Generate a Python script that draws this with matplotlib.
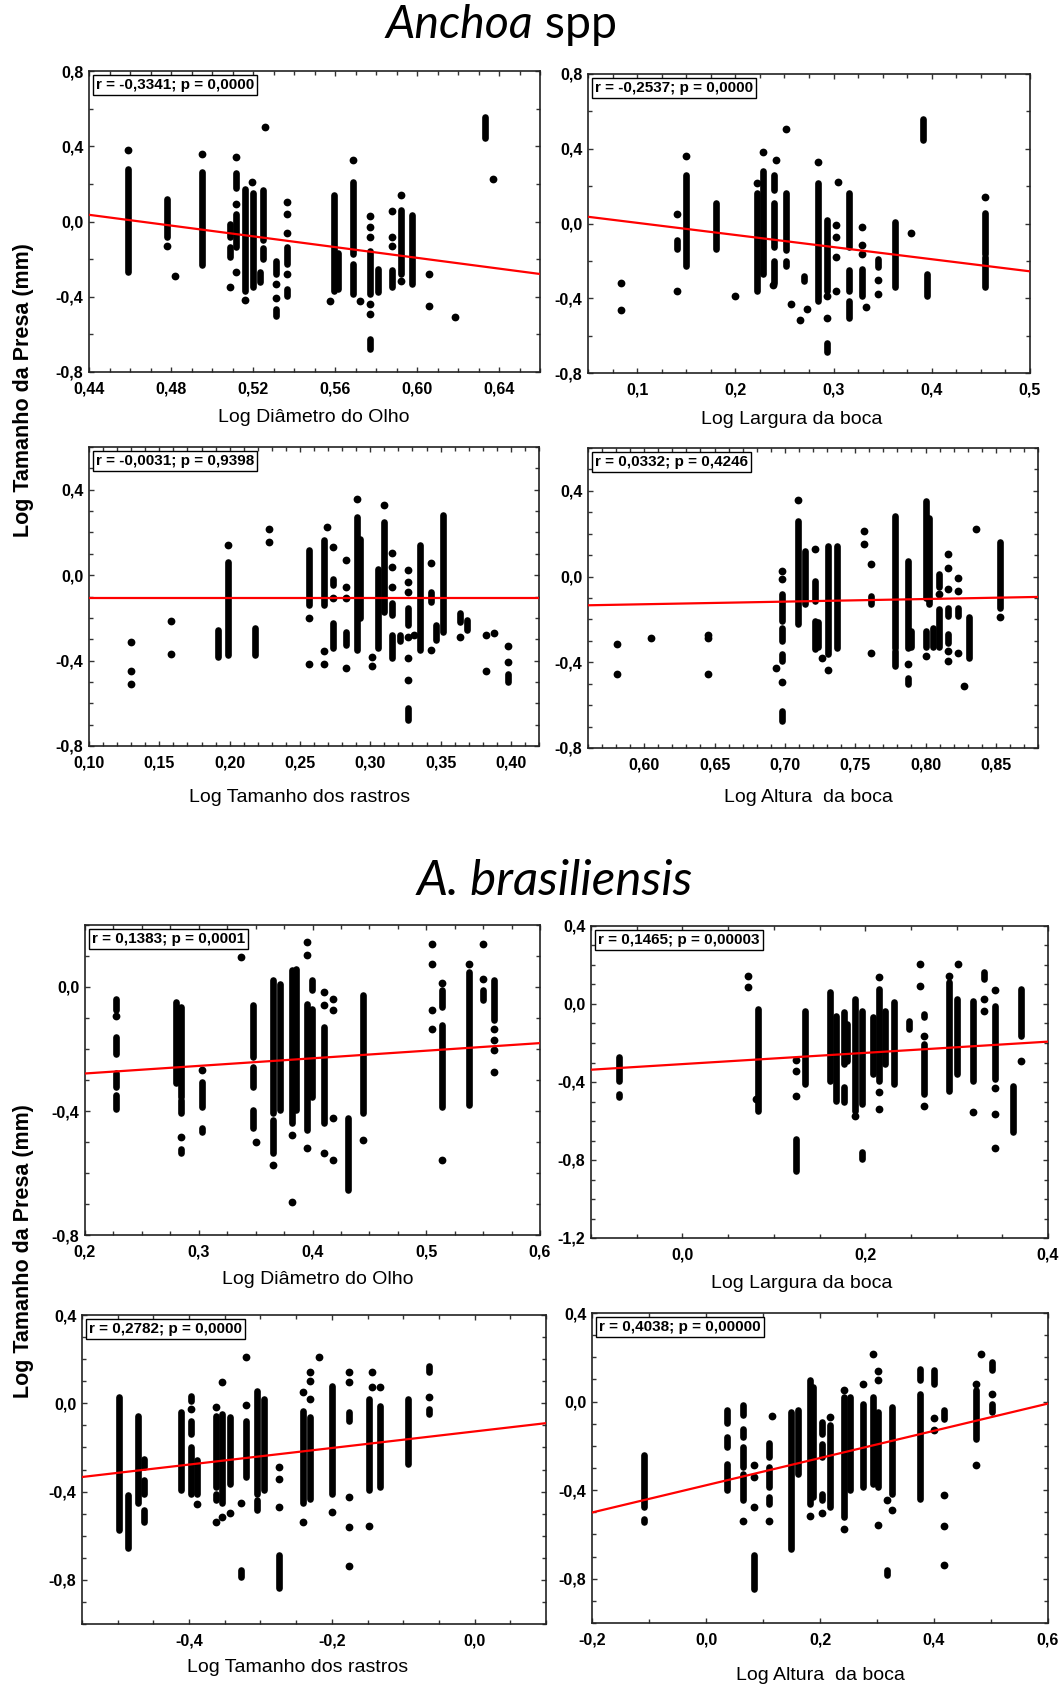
import matplotlib
matplotlib.use("Agg")
import matplotlib.pyplot as plt
from matplotlib import font_manager
from matplotlib.ticker import FixedLocator, MultipleLocator

# ------------------------------------------------------------------
# Data: each panel has dense vertical runs of overlapping points
# (x, y_low, y_high) and isolated points (x, y), plus the fitted line
# given by its two end points (x0, y0, x1, y1).
# ------------------------------------------------------------------

# Anchoa spp -- Log Diametro do Olho
anchoa_olho_runs = [
    (0.459, -0.27, 0.28), (0.478, -0.084, 0.121), (0.495, -0.229, 0.263),
    (0.5115, 0.18, 0.26), (0.5115, -0.137, 0.04), (0.509, -0.084, -0.012),
    (0.509, -0.19, -0.137), (0.516, -0.368, 0.174), (0.520, -0.35, 0.15),
    (0.525, -0.10, 0.165), (0.525, -0.20, -0.14), (0.5235, -0.32, -0.27),
    (0.531, -0.28, -0.21), (0.531, -0.50, -0.466), (0.5366, -0.226, -0.137),
    (0.5366, -0.395, -0.36), (0.5595, -0.368, 0.139), (0.5615, -0.36, -0.17),
    (0.5688, -0.172, 0.21), (0.5688, -0.386, -0.226), (0.5769, -0.386, -0.155),
    (0.5769, -0.68, -0.626), (0.581, -0.377, -0.25), (0.588, -0.35, -0.26),
    (0.592, -0.28, 0.059), (0.5977, -0.332, 0.032), (0.633, 0.444, 0.553),
]
anchoa_olho_pts = [
    (0.459, 0.382), (0.478, -0.128), (0.482, -0.288), (0.495, 0.361),
    (0.5115, 0.343), (0.5115, 0.094), (0.5115, -0.27), (0.509, -0.35),
    (0.516, -0.418), (0.5195, 0.21), (0.526, 0.503), (0.531, -0.33),
    (0.531, -0.407), (0.5366, 0.103), (0.5366, 0.041), (0.5366, -0.06),
    (0.5366, -0.28), (0.5575, -0.42), (0.5688, 0.329), (0.572, -0.42),
    (0.5769, 0.027), (0.5769, -0.03), (0.5769, -0.08), (0.5769, -0.44),
    (0.5769, -0.49), (0.588, 0.055), (0.588, -0.084), (0.588, -0.128),
    (0.592, 0.142), (0.592, -0.315), (0.606, -0.28), (0.606, -0.448),
    (0.6184, -0.51), (0.637, 0.224),
]
anchoa_olho_fit = (0.44, 0.0356, 0.66, -0.279)

# Anchoa spp -- Log Largura da boca
anchoa_largura_runs = [
    (0.1409, -0.135, -0.09), (0.15, -0.225, 0.261), (0.1804, -0.135, 0.112),
    (0.2216, -0.36, 0.162), (0.2284, -0.27, 0.279), (0.2395, 0.18, 0.26),
    (0.2395, -0.126, 0.108), (0.2395, -0.32, -0.2), (0.2514, -0.144, 0.162),
    (0.2514, -0.23, -0.2), (0.27, -0.31, -0.28), (0.284, -0.414, 0.216),
    (0.2935, -0.36, 0.018), (0.2935, -0.685, -0.64), (0.3155, -0.126, 0.162),
    (0.3155, -0.36, -0.25), (0.3155, -0.505, -0.414), (0.329, -0.387, -0.243),
    (0.345, -0.234, -0.19), (0.3622, -0.342, 0.009), (0.391, 0.445, 0.559),
    (0.395, -0.387, -0.27), (0.454, -0.162, 0.054), (0.454, -0.342, -0.18),
]
anchoa_largura_pts = [
    (0.0834, -0.319), (0.0834, -0.463), (0.1409, 0.05), (0.1409, -0.36),
    (0.15, 0.36), (0.2, -0.387), (0.2216, 0.216), (0.2284, 0.384),
    (0.241, 0.342), (0.238, -0.33), (0.2514, 0.505), (0.2564, -0.429),
    (0.2655, -0.519), (0.273, -0.46), (0.284, 0.328), (0.2935, -0.387),
    (0.2935, -0.505), (0.302, -0.009), (0.302, -0.072), (0.302, -0.18),
    (0.302, -0.36), (0.3047, 0.22), (0.329, -0.018), (0.329, -0.117),
    (0.329, -0.162), (0.3334, -0.447), (0.345, -0.303), (0.345, -0.378),
    (0.3787, -0.049), (0.454, 0.144),
]
anchoa_largura_fit = (0.05, 0.036, 0.5, -0.256)

# Anchoa spp -- Log Tamanho dos rastros
anchoa_rastros_runs = [
    (0.192, -0.381, -0.257), (0.1986, -0.374, 0.062), (0.2183, -0.374, -0.249),
    (0.2564, -0.14, 0.117), (0.267, -0.14, 0.163), (0.2738, -0.047, -0.016),
    (0.2738, -0.342, -0.226), (0.2826, -0.327, -0.265), (0.2905, -0.35, 0.272),
    (0.293, -0.2, 0.171), (0.3057, -0.342, 0.031), (0.3095, -0.171, 0.249),
    (0.3152, -0.187, -0.132), (0.3152, -0.389, -0.28), (0.321, -0.31, -0.28),
    (0.327, -0.233, -0.156), (0.327, -0.677, -0.623), (0.3357, -0.35, 0.14),
    (0.3429, -0.125, -0.078), (0.347, -0.303, -0.233), (0.3517, -0.265, 0.28),
    (0.3636, -0.218, -0.179), (0.369, -0.257, -0.21), (0.398, -0.501, -0.464),
]
anchoa_rastros_pts = [
    (0.13, -0.311), (0.13, -0.451), (0.13, -0.51), (0.158, -0.215),
    (0.158, -0.37), (0.1986, 0.14), (0.2279, 0.218), (0.2279, 0.153),
    (0.2564, -0.2), (0.2564, -0.417), (0.267, -0.355), (0.267, -0.417),
    (0.2694, 0.226), (0.2738, 0.132), (0.2738, -0.109), (0.2826, 0.07),
    (0.2826, -0.054), (0.2826, -0.109), (0.2826, -0.436), (0.2905, 0.358),
    (0.301, -0.381), (0.301, -0.425), (0.3095, 0.33), (0.3152, 0.106),
    (0.3152, 0.039), (0.3152, -0.054), (0.327, 0.023), (0.327, -0.031),
    (0.327, -0.078), (0.327, -0.288), (0.327, -0.386), (0.327, -0.49),
    (0.3314, -0.28), (0.3429, 0.058), (0.3429, -0.35), (0.3636, -0.288),
    (0.3826, -0.28), (0.3826, -0.448), (0.388, -0.272), (0.398, -0.33),
    (0.398, -0.405),
]
anchoa_rastros_fit = (0.10, -0.106, 0.42, -0.106)

# Anchoa spp -- Log Altura da boca
anchoa_altura_runs = [
    (0.698, -0.207, -0.08), (0.698, -0.3, -0.24), (0.698, -0.394, -0.363),
    (0.698, -0.674, -0.627), (0.7094, -0.223, 0.26), (0.714, -0.129, 0.12),
    (0.7212, -0.114, -0.02), (0.7212, -0.34, -0.207), (0.7236, -0.33, -0.21),
    (0.7307, -0.363, 0.143), (0.7373, -0.332, 0.143), (0.7614, -0.129, -0.09),
    (0.778, -0.332, 0.283), (0.778, -0.417, -0.347), (0.7874, -0.332, 0.073),
    (0.7874, -0.503, -0.472), (0.79, -0.33, -0.254), (0.8004, -0.098, 0.353),
    (0.8004, -0.33, -0.254), (0.8028, -0.129, 0.275), (0.805, -0.33, -0.24),
    (0.8098, -0.33, -0.153), (0.8098, -0.051, 0.011), (0.8157, -0.184, -0.145),
    (0.8157, -0.308, -0.27), (0.8228, -0.184, -0.145), (0.8311, -0.378, -0.191),
    (0.8531, -0.145, 0.159),
]
anchoa_altura_pts = [
    (0.5806, -0.313), (0.5806, -0.453), (0.605, -0.285), (0.6456, -0.274),
    (0.6456, -0.285), (0.6456, -0.453), (0.694, -0.425), (0.698, 0.026),
    (0.698, -0.012), (0.698, -0.49), (0.7094, 0.358), (0.7212, 0.128),
    (0.7264, -0.381), (0.7307, -0.437), (0.756, 0.213), (0.756, 0.151),
    (0.7614, 0.058), (0.7614, -0.355), (0.7874, -0.41), (0.8004, -0.37),
    (0.8098, -0.082), (0.8157, 0.104), (0.8157, 0.042), (0.8157, -0.059),
    (0.8157, -0.347), (0.8157, -0.394), (0.8228, -0.008), (0.8228, -0.067),
    (0.8228, -0.355), (0.8271, -0.51), (0.8358, 0.224), (0.8531, -0.191),
]
anchoa_altura_fit = (0.56, -0.134, 0.88, -0.095)

# A. brasiliensis -- Log Diametro do Olho
bras_olho_runs = [
    (0.2275, -0.075, -0.038), (0.2275, -0.215, -0.161), (0.2275, -0.322, -0.279),
    (0.2275, -0.395, -0.349), (0.2802, -0.311, -0.048), (0.2846, -0.354, -0.064),
    (0.2846, -0.408, -0.365), (0.2846, -0.537, -0.524), (0.303, -0.387, -0.306),
    (0.303, -0.467, -0.456), (0.3476, -0.225, -0.059), (0.3476, -0.322, -0.258),
    (0.3476, -0.456, -0.397), (0.3652, -0.408, 0.021), (0.3652, -0.537, -0.43),
    (0.371, -0.397, 0.011), (0.3818, -0.44, 0.054), (0.3856, -0.397, 0.059),
    (0.395, -0.462, -0.054), (0.3994, -0.011, 0.021), (0.3994, -0.354, -0.07),
    (0.4097, -0.44, -0.129), (0.431, -0.655, -0.424), (0.4448, -0.408, -0.027),
    (0.5136, -0.064, -0.011), (0.5136, -0.387, -0.123), (0.5376, -0.381, 0.048),
    (0.5496, -0.043, -0.011), (0.5596, -0.107, 0.021),
]
bras_olho_pts = [
    (0.2275, -0.094), (0.2846, -0.483), (0.303, -0.268), (0.3373, 0.097),
    (0.3505, -0.501), (0.3652, -0.574), (0.3818, -0.478), (0.3818, -0.693),
    (0.395, 0.145), (0.395, 0.102), (0.395, -0.518), (0.4097, -0.016),
    (0.4097, -0.059), (0.4097, -0.537), (0.4184, -0.038), (0.4184, -0.075),
    (0.4184, -0.424), (0.4184, -0.558), (0.4448, -0.492), (0.5048, 0.14),
    (0.5048, 0.075), (0.5048, -0.075), (0.5048, -0.134), (0.5136, 0.013),
    (0.5136, -0.558), (0.5376, 0.075), (0.5496, 0.14), (0.5496, 0.027),
    (0.5596, -0.134), (0.5596, -0.172), (0.5596, -0.204), (0.5596, -0.274),
]
bras_olho_fit = (0.2, -0.279, 0.6, -0.181)

# A. brasiliensis -- Log Largura da boca
bras_largura_runs = [
    (-0.069, -0.393, -0.274), (-0.069, -0.479, -0.462), (0.083, -0.547, -0.026),
    (0.124, -0.855, -0.692), (0.134, -0.41, -0.034), (0.162, -0.393, 0.06),
    (0.168, -0.496, -0.06), (0.177, -0.308, -0.043), (0.177, -0.504, -0.427),
    (0.18, -0.291, -0.103), (0.189, -0.547, 0.026), (0.197, -0.513, -0.034),
    (0.197, -0.795, -0.761), (0.209, -0.359, -0.068), (0.215, -0.393, 0.077),
    (0.222, -0.308, -0.034), (0.231, -0.41, 0.009), (0.2475, -0.128, -0.085),
    (0.264, -0.068, -0.051), (0.264, -0.462, -0.205), (0.292, -0.444, 0.111),
    (0.30, -0.359, 0.026), (0.318, -0.393, 0.017), (0.33, 0.128, 0.162),
    (0.342, -0.385, -0.009), (0.362, -0.658, -0.419), (0.371, -0.162, 0.077),
]
bras_largura_pts = [
    (0.0715, 0.142), (0.0715, 0.089), (0.081, -0.487), (0.124, -0.287),
    (0.124, -0.342), (0.124, -0.47), (0.189, -0.573), (0.215, 0.137),
    (0.215, -0.453), (0.215, -0.538), (0.26, 0.205), (0.26, 0.094),
    (0.264, -0.162), (0.264, -0.521), (0.292, 0.145), (0.302, 0.205),
    (0.318, -0.556), (0.33, 0.026), (0.33, -0.034), (0.342, 0.072),
    (0.342, -0.431), (0.342, -0.564), (0.342, -0.738), (0.371, -0.291),
]
bras_largura_fit = (-0.1, -0.337, 0.4, -0.193)

# A. brasiliensis -- Log Tamanho dos rastros
bras_rastros_runs = [
    (-0.4985, -0.574, 0.027), (-0.486, -0.657, -0.417), (-0.4719, -0.454, -0.056),
    (-0.4625, -0.289, -0.251), (-0.4625, -0.409, -0.349), (-0.4625, -0.537, -0.484),
    (-0.4107, -0.394, -0.041), (-0.398, 0.012, 0.035), (-0.398, -0.138, -0.078),
    (-0.398, -0.409, -0.198), (-0.3888, -0.409, -0.259), (-0.362, -0.379, -0.056),
    (-0.362, -0.439, -0.409), (-0.3538, -0.454, -0.048), (-0.3421, -0.364, -0.063),
    (-0.3267, -0.785, -0.755), (-0.3197, -0.334, -0.078), (-0.3048, -0.409, 0.057),
    (-0.3048, -0.484, -0.439), (-0.2954, -0.394, 0.02), (-0.2744, -0.838, -0.687),
    (-0.2408, -0.454, -0.033), (-0.231, -0.432, -0.063), (-0.1998, -0.409, 0.08),
    (-0.1764, -0.078, -0.041), (-0.1484, -0.394, 0.02), (-0.133, -0.379, -0.011),
    (-0.0938, -0.274, 0.02), (-0.0644, 0.14, 0.17), (-0.0644, -0.048, -0.026),
]
bras_rastros_pts = [
    (-0.398, -0.026), (-0.3888, -0.457), (-0.362, -0.018), (-0.362, -0.537),
    (-0.3538, 0.095), (-0.3538, -0.514), (-0.3421, -0.499), (-0.3267, -0.451),
    (-0.3197, 0.208), (-0.3197, -0.006), (-0.2744, -0.289), (-0.2744, -0.341),
    (-0.2744, -0.469), (-0.2408, 0.05), (-0.2408, -0.537), (-0.231, 0.144),
    (-0.231, 0.102), (-0.231, 0.02), (-0.2184, 0.208), (-0.1998, -0.492),
    (-0.1764, 0.14), (-0.1764, 0.095), (-0.1764, -0.424), (-0.1764, -0.562),
    (-0.1764, -0.735), (-0.1484, -0.556), (-0.1438, 0.14), (-0.1438, 0.072),
    (-0.133, 0.075), (-0.0644, 0.027),
]
bras_rastros_fit = (-0.55, -0.334, 0.1, -0.090)

# A. brasiliensis -- Log Altura da boca
bras_altura_runs = [
    (-0.1088, -0.476, -0.242), (-0.1088, -0.544, -0.529), (0.0374, -0.099, -0.039),
    (0.0374, -0.205, -0.16), (0.0374, -0.4, -0.28), (0.0643, -0.062, -0.017),
    (0.0643, -0.16, -0.122), (0.0643, -0.295, -0.205), (0.0643, -0.446, -0.325),
    (0.0848, -0.845, -0.694), (0.1105, -0.25, -0.187), (0.1105, -0.386, -0.295),
    (0.1105, -0.461, -0.431), (0.1491, -0.664, -0.047), (0.1608, -0.325, -0.039),
    (0.1825, -0.461, 0.096), (0.1883, -0.431, 0.066), (0.2041, -0.145, -0.092),
    (0.2041, -0.25, -0.19), (0.2041, -0.446, -0.416), (0.2175, -0.476, -0.107),
    (0.2421, -0.521, 0.021), (0.2526, -0.4, 0.021), (0.2749, -0.386, -0.009),
    (0.2936, -0.37, 0.021), (0.3023, -0.386, -0.047), (0.317, -0.785, -0.762),
    (0.3257, -0.416, -0.024), (0.3754, 0.096, 0.149), (0.3754, -0.438, 0.036),
    (0.4006, 0.081, 0.142), (0.4175, -0.077, -0.036), (0.4737, -0.167, 0.051),
    (0.5023, 0.142, 0.179), (0.5023, -0.047, -0.009),
]
bras_altura_pts = [
    (0.0643, -0.539), (0.0848, -0.288), (0.0848, -0.34), (0.0848, -0.476),
    (0.1105, -0.539), (0.1152, -0.066), (0.1825, -0.518), (0.2041, -0.502),
    (0.2175, -0.069), (0.2421, 0.051), (0.2421, -0.574), (0.2749, 0.078),
    (0.2936, 0.214), (0.3023, 0.139), (0.3023, 0.096), (0.3023, -0.559),
    (0.317, -0.446), (0.3257, -0.491), (0.4006, -0.072), (0.4006, -0.13),
    (0.4175, -0.423), (0.4175, -0.563), (0.4175, -0.739), (0.4737, 0.081),
    (0.4737, -0.288), (0.4825, 0.214), (0.5023, 0.033),
]
bras_altura_fit = (-0.2, -0.501, 0.6, -0.009)

# Correlation statistics shown in each panel
stats_labels = [
    "r = -0,3341; p = 0,0000", "r = -0,2537; p = 0,0000",
    "r = -0,0031; p = 0,9398", "r = 0,0332; p = 0,4246",
    "r = 0,1383; p = 0,0001", "r = 0,1465; p = 0,00003",
    "r = 0,2782; p = 0,0000", "r = 0,4038; p = 0,00000",
]
x_labels = [
    "Log Diâmetro do Olho", "Log Largura da boca",
    "Log Tamanho dos rastros", "Log Altura  da boca",
    "Log Diâmetro do Olho", "Log Largura da boca",
    "Log Tamanho dos rastros", "Log Altura  da boca",
]
y_label = "Log Tamanho da Presa (mm)"
titles = ["Anchoa", "spp", "A. brasiliensis"]

# Axis ranges, labelled ticks (values, decimals) and minor step per panel
x_limits = [(0.44, 0.66), (0.05, 0.5), (0.10, 0.42), (0.56, 0.88),
            (0.2, 0.6), (-0.1, 0.4), (-0.55, 0.1), (-0.2, 0.6)]
y_limits = [(-0.8, 0.8), (-0.8, 0.8), (-0.8, 0.6), (-0.8, 0.6),
            (-0.8, 0.2), (-1.2, 0.4), (-1.0, 0.4), (-1.0, 0.4)]
x_ticks = [[0.44, 0.48, 0.52, 0.56, 0.60, 0.64], [0.1, 0.2, 0.3, 0.4, 0.5],
           [0.10, 0.15, 0.20, 0.25, 0.30, 0.35, 0.40],
           [0.60, 0.65, 0.70, 0.75, 0.80, 0.85],
           [0.2, 0.3, 0.4, 0.5, 0.6], [0.0, 0.2, 0.4],
           [-0.4, -0.2, 0.0], [-0.2, 0.0, 0.2, 0.4, 0.6]]
x_decimals = [2, 1, 2, 2, 1, 1, 1, 1]
x_minor = [0.01, 0.025, 0.01, 0.01, 0.025, 0.05, 0.05, 0.1]
y_ticks = [[-0.8, -0.4, 0.0, 0.4, 0.8], [-0.8, -0.4, 0.0, 0.4, 0.8],
           [-0.8, -0.4, 0.0, 0.4], [-0.8, -0.4, 0.0, 0.4],
           [-0.8, -0.4, 0.0], [-1.2, -0.8, -0.4, 0.0, 0.4],
           [-0.8, -0.4, 0.0, 0.4], [-0.8, -0.4, 0.0, 0.4]]
y_minor = [0.2, 0.2, 0.1, 0.1, 0.1, 0.1, 0.1, 0.1]

panels = [
    (anchoa_olho_runs, anchoa_olho_pts, anchoa_olho_fit),
    (anchoa_largura_runs, anchoa_largura_pts, anchoa_largura_fit),
    (anchoa_rastros_runs, anchoa_rastros_pts, anchoa_rastros_fit),
    (anchoa_altura_runs, anchoa_altura_pts, anchoa_altura_fit),
    (bras_olho_runs, bras_olho_pts, bras_olho_fit),
    (bras_largura_runs, bras_largura_pts, bras_largura_fit),
    (bras_rastros_runs, bras_rastros_pts, bras_rastros_fit),
    (bras_altura_runs, bras_altura_pts, bras_altura_fit),
]

# ------------------------------------------------------------------
# Layout (pixel boxes of each plotting area: left, top, right, bottom)
# ------------------------------------------------------------------
W, H = 1062, 1687
boxes = [
    (89, 71, 540, 372), (588, 74, 1030, 373),
    (89, 447, 539, 746), (588, 448, 1038, 748),
    (85, 925, 540, 1235), (591, 926, 1048, 1238),
    (82, 1315, 546, 1624), (592, 1313, 1048, 1623),
]
xlabel_pos = [(314, 418), (792, 420), (300, 798), (808, 798),
              (318, 1279), (802, 1283), (298, 1668), (820, 1675)]


def available(name):
    try:
        font_manager.findfont(font_manager.FontProperties(family=name),
                              fallback_to_default=False)
        return True
    except Exception:
        return False


narrow = next((f for f in ["Liberation Sans Narrow", "DejaVu Sans Condensed",
                           "Liberation Sans"] if available(f)), "DejaVu Sans")
narrow_size = 13 if narrow != "Liberation Sans" else 11.5
sans = "Liberation Sans" if available("Liberation Sans") else "DejaVu Sans"
title_font = next((f for f in ["Lato", "Open Sans", "Noto Sans"] if available(f)),
                  "DejaVu Sans")

plt.rcParams["axes.unicode_minus"] = False

fig = plt.figure(figsize=(W / 100, H / 100), dpi=100)

MS = 5.6    # isolated marker diameter in points
RUN_W = 4.8  # width of stacked point columns in points


def fmt(v, d):
    s = f"{v:.{d}f}".replace(".", ",")
    if s.startswith("-") and float(v) == 0:
        s = s[1:]
    return s


for i, ((runs, pts, fit), box) in enumerate(zip(panels, boxes)):
    l, t, r, b = box
    ax = fig.add_axes([l / W, 1 - b / H, (r - l) / W, (b - t) / H])

    # dense stacks of points
    rx = [c[0] for c in runs]
    rlo = [c[1] for c in runs]
    rhi = [c[2] for c in runs]
    lc = ax.vlines(rx, rlo, rhi, colors="black", linewidth=RUN_W, zorder=2)
    lc.set_capstyle("round")

    # isolated points
    ax.plot([p[0] for p in pts], [p[1] for p in pts], "o", color="black",
            ms=MS, mec="black", mew=0, linestyle="none", zorder=2)

    # regression line
    ax.plot([fit[0], fit[2]], [fit[1], fit[3]], color="#ff0000", lw=1.6, zorder=3)

    ax.set_xlim(*x_limits[i])
    ax.set_ylim(*y_limits[i])
    ax.xaxis.set_major_locator(FixedLocator(x_ticks[i]))
    ax.set_xticklabels([fmt(v, x_decimals[i]) for v in x_ticks[i]])
    ax.xaxis.set_minor_locator(MultipleLocator(x_minor[i]))
    ax.yaxis.set_major_locator(FixedLocator(y_ticks[i]))
    ax.set_yticklabels([fmt(v, 1) for v in y_ticks[i]])
    ax.yaxis.set_minor_locator(MultipleLocator(y_minor[i]))

    ax.tick_params(which="both", direction="in", top=True, right=True,
                   color="#333333", width=1.0)
    ax.tick_params(which="major", length=3.5)
    ax.tick_params(which="minor", length=3.0)
    ax.tick_params(axis="x", pad=7)
    ax.tick_params(axis="y", pad=4)
    for lab in ax.get_xticklabels() + ax.get_yticklabels():
        lab.set_fontfamily(narrow)
        lab.set_fontweight("bold")
        lab.set_fontsize(narrow_size)
    for sp in ax.spines.values():
        sp.set_linewidth(1.2)
        sp.set_color("#222222")

    ax.annotate(stats_labels[i], xy=(0, 1), xycoords="axes fraction",
                xytext=(5, -5), textcoords="offset points",
                ha="left", va="top", fontfamily=narrow, fontweight="bold",
                fontsize=narrow_size - 0.5, zorder=5,
                bbox=dict(boxstyle="square,pad=0.2", fc="white", ec="black",
                          lw=1.0))

    xl, yl = xlabel_pos[i]
    fig.text(xl / W, 1 - yl / H, x_labels[i], ha="center", va="center",
             fontfamily=sans, fontsize=14)

# y labels, one for each species block
for yc in (390, 1251):
    fig.text(24 / W, 1 - yc / H, y_label, rotation=90, ha="center",
             va="center", fontfamily=sans, fontweight="bold", fontsize=15.5)

# titles
fig.canvas.draw()
renderer = fig.canvas.get_renderer()
t1 = fig.text(0, 1 - 38 / H, titles[0], fontfamily=title_font, style="italic",
              fontsize=33.5, ha="left", va="baseline")
t2 = fig.text(0, 1 - 38 / H, " " + titles[1], fontfamily=title_font,
              fontsize=33.5, ha="left", va="baseline")
w1 = t1.get_window_extent(renderer).width
w2 = t2.get_window_extent(renderer).width
x0 = 501 - (w1 + w2) / 2
t1.set_x(x0 / W)
t2.set_x((x0 + w1) / W)
fig.text(555 / W, 1 - 895 / H, titles[2], fontfamily=title_font, style="italic",
         fontsize=35.5, ha="center", va="baseline")

fig.savefig("out.png", dpi=100, facecolor="white")
